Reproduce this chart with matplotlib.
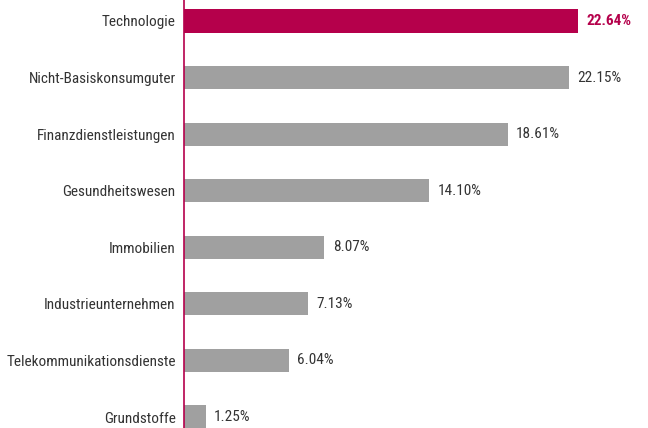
import matplotlib
matplotlib.use("Agg")
import matplotlib.pyplot as plt

categories = ["Technologie", "Nicht-Basiskonsumguter", "Finanzdienstleistungen",
              "Gesundheitswesen", "Immobilien", "Industrieunternehmen",
              "Telekommunikationsdienste", "Grundstoffe"]
values = [22.64, 22.15, 18.61, 14.10, 8.07, 7.13, 6.04, 1.25]
labels = ["22.64%", "22.15%", "18.61%", "14.10%", "8.07%", "7.13%", "6.04%", "1.25%"]

HL = "#b5004b"
GRAY = "#a0a0a0"
plt.rcParams['font.family'] = ['Roboto Condensed', 'Archivo Narrow', 'DejaVu Sans']

fig = plt.figure(figsize=(6.48, 4.28), dpi=100)
ax = fig.add_axes([184/648, 0, 1 - 184/648, 1])
ypos = list(range(len(categories)))
colors = [HL] + [GRAY] * (len(categories) - 1)
ax.barh(ypos, values, height=0.41, color=colors, zorder=2)
ax.set_xlim(0, (648 - 184) / 17.4)
ax.set_ylim(7.194, -0.371)
for s in ["top", "right", "bottom"]:
    ax.spines[s].set_visible(False)
ax.spines["left"].set_color(HL)
ax.spines["left"].set_linewidth(1.2)
ax.set_xticks([])
ax.set_yticks(ypos)
ax.set_yticklabels(categories, fontsize=11, color="#333333")
ax.tick_params(axis="y", length=0, pad=6)
for i, (v, lab) in enumerate(zip(values, labels)):
    if i == 0:
        ax.annotate(lab, (v, i), xytext=(6, 0), textcoords="offset points",
                    va="center", ha="left", fontsize=11, color=HL, fontweight="bold")
    else:
        ax.annotate(lab, (v, i), xytext=(6, 0), textcoords="offset points",
                    va="center", ha="left", fontsize=11, color="#333333")
fig.savefig("out.png", dpi=100)
